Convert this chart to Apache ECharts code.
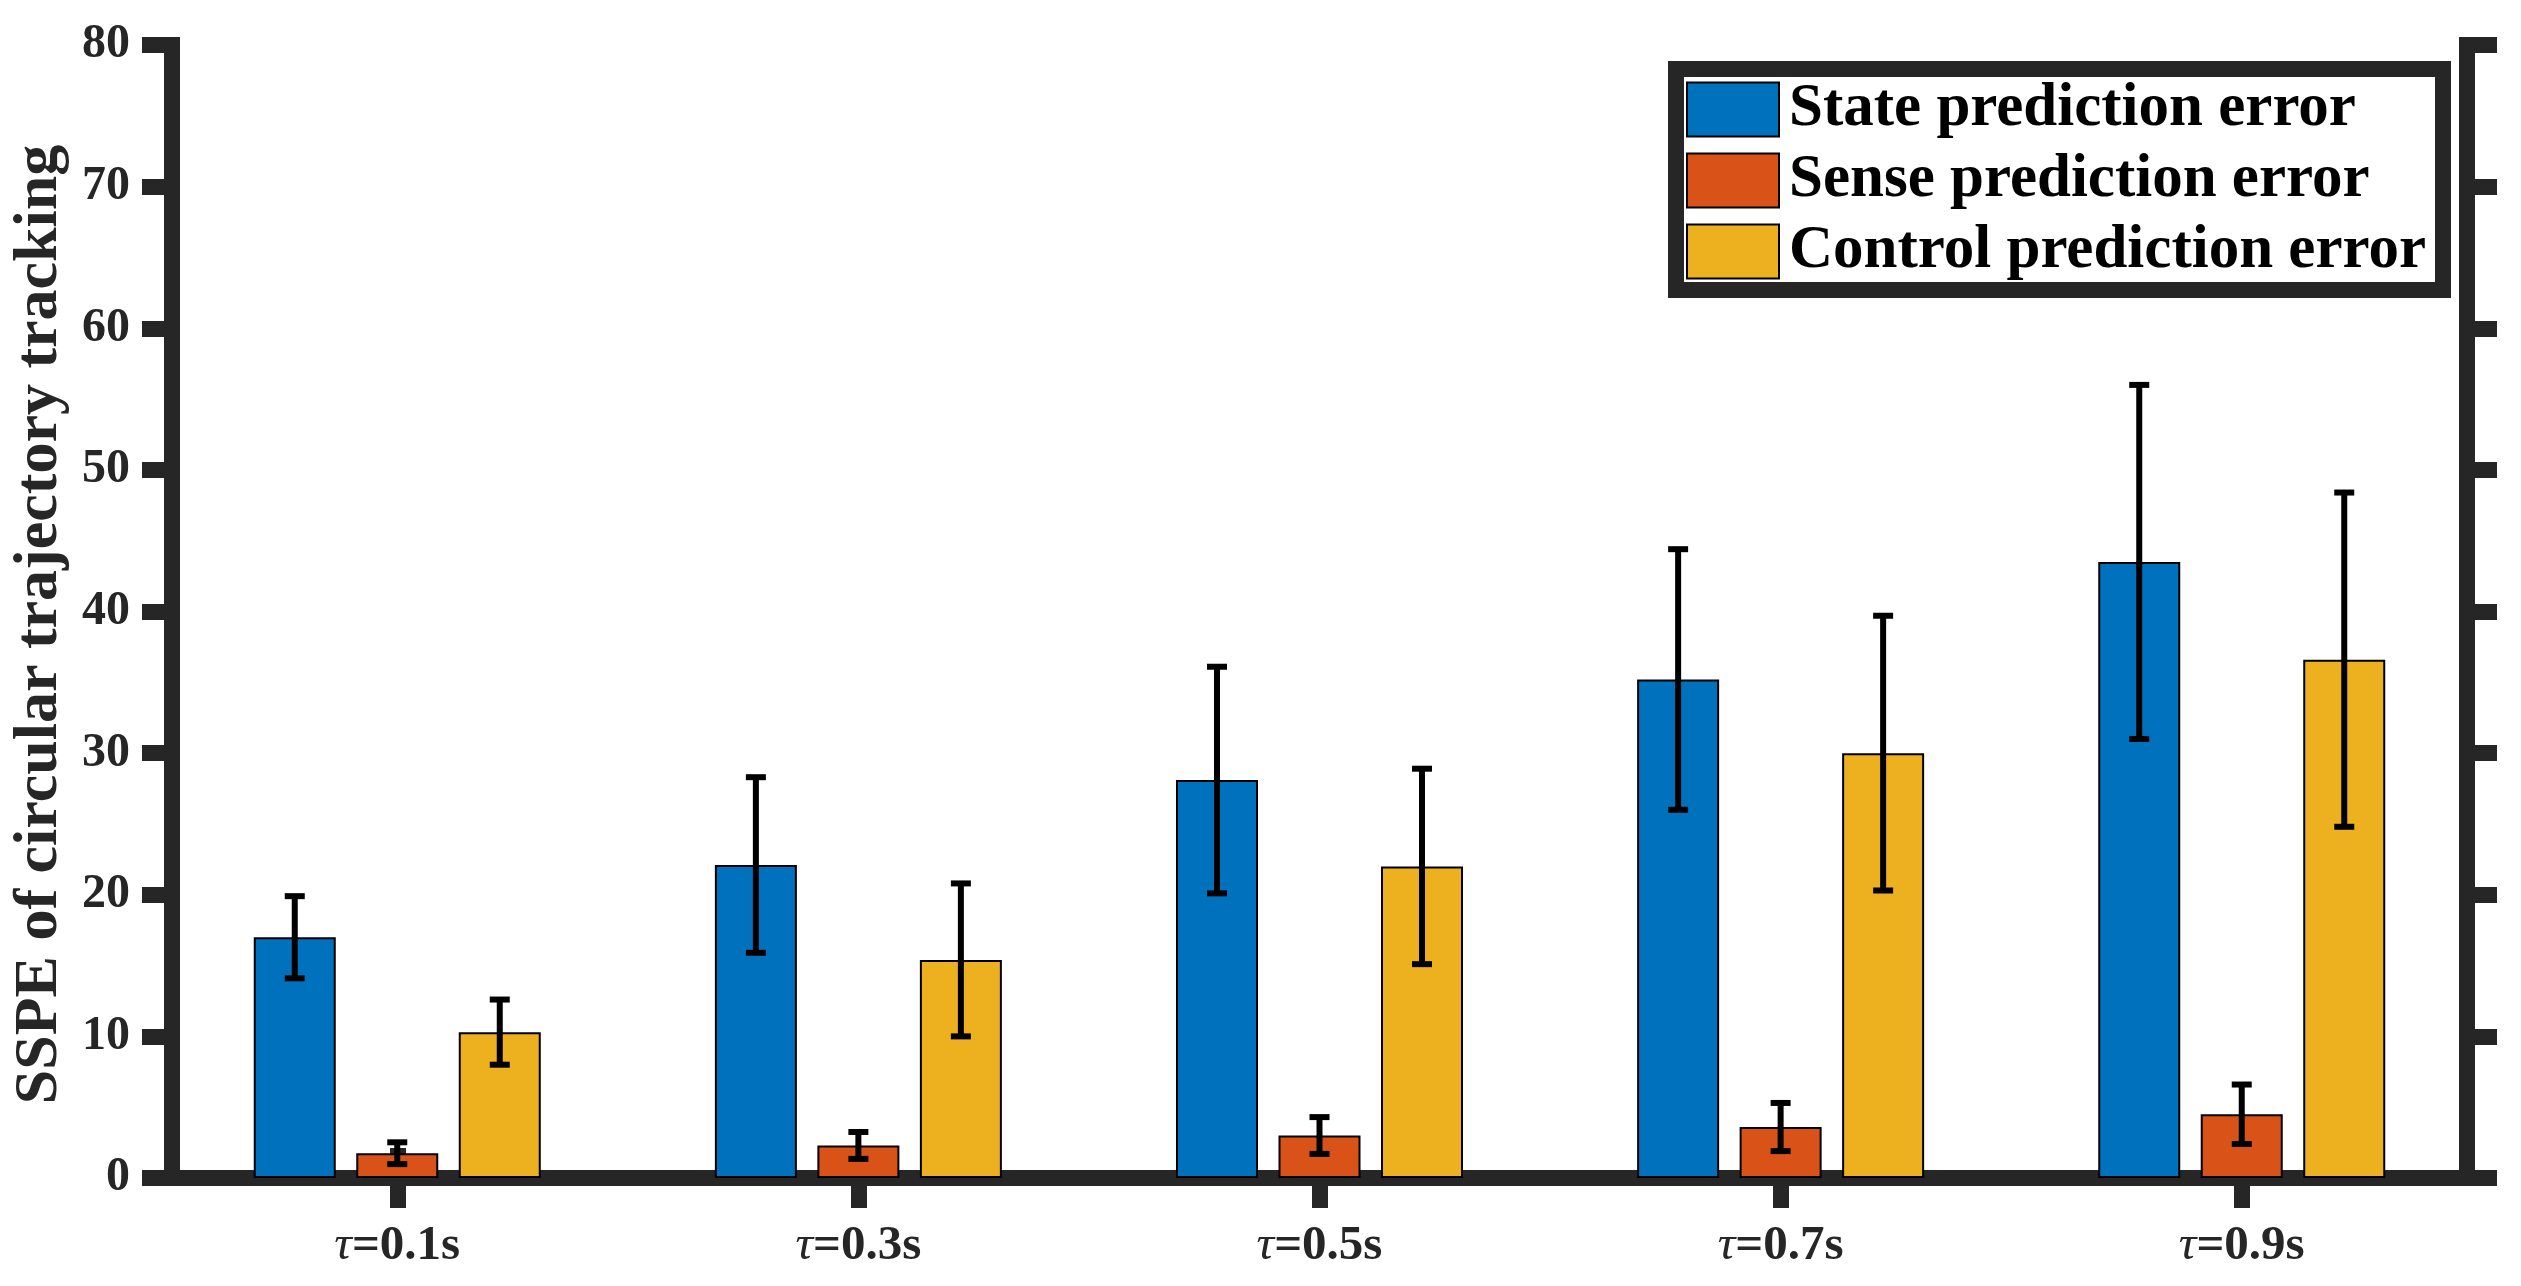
<!DOCTYPE html>
<html><head><meta charset="utf-8">
<script src="https://cdn.jsdelivr.net/npm/echarts/dist/echarts.min.js"></script>
<style>html,body{margin:0;padding:0;background:#fff}#c{width:2521px;height:1286px}</style>
</head><body><div id="c"></div>
<script>
// ---- data ----
const categories = ['τ=0.1s', 'τ=0.3s', 'τ=0.5s', 'τ=0.7s', 'τ=0.9s'];
const seriesNames = ['State prediction error', 'Sense prediction error', 'Control prediction error'];
const stateMean   = [17.0, 22.1, 28.1, 35.2, 43.5];
const stateSd     = [2.9, 6.2, 8.0, 9.2, 12.5];
const senseMean   = [1.75, 2.3, 3.0, 3.6, 4.5];
const senseSd     = [0.77, 0.95, 1.3, 1.7, 2.1];
const controlMean = [10.3, 15.4, 22.0, 30.0, 36.6];
const controlSd   = [2.3, 5.4, 6.9, 9.7, 11.8];
const yMin = 0, yMax = 80, yStep = 10;
const xPositions = [1, 2, 3, 4, 5];
const xMin = 0.5115, xMax = 5.4885;

// ---- style ----
const colors = ['#0072BD', '#D95319', '#EDB120'];
const axisColor = '#262626';
const font = "'Times New Roman', 'Liberation Serif', serif";
const barW = 82, gapRatio = 0.25;

const means = [stateMean, senseMean, controlMean];
const sds = [stateSd, senseSd, controlSd];

const barSeries = seriesNames.map((name, k) => ({
  name, type: 'bar',
  data: means[k].map((m, i) => [xPositions[i], m]),
  barWidth: barW, barGap: (gapRatio * 100) + '%',
  itemStyle: { color: colors[k], borderColor: '#000', borderWidth: 2 },
  z: 2
}));

const errSeries = seriesNames.map((name, k) => ({
  type: 'custom', name: name + ' err',
  data: means[k].map((m, i) => [xPositions[i], m - sds[k][i], m + sds[k][i]]),
  z: 5,
  renderItem: function (params, api) {
    const off = (k - 1) * barW * (1 + gapRatio);
    const lo = api.coord([api.value(0), api.value(1)]);
    const hi = api.coord([api.value(0), api.value(2)]);
    const x = lo[0] + off;
    const cw = 10;
    const st = { stroke: '#000', lineWidth: 6 };
    return {
      type: 'group', children: [
        { type: 'line', shape: { x1: x, y1: lo[1], x2: x, y2: hi[1] }, style: st },
        { type: 'line', shape: { x1: x - cw, y1: hi[1], x2: x + cw, y2: hi[1] }, style: st },
        { type: 'line', shape: { x1: x - cw, y1: lo[1], x2: x + cw, y2: lo[1] }, style: st }
      ]
    };
  }
}));

const axLine = { show: true, lineStyle: { color: axisColor, width: 16, cap: 'square' } };
const axTick = { show: true, inside: false, length: 30, lineStyle: { color: axisColor, width: 16 } };

const option = {
  backgroundColor: '#fff',
  animation: false,
  grid: { left: 172, right: 54, top: 45, bottom: 108 },
  xAxis: [
    {
      type: 'value', min: xMin, max: xMax, position: 'bottom',
      axisLine: axLine,
      axisTick: Object.assign({ customValues: xPositions }, axTick),
      axisLabel: {
        customValues: xPositions,
        margin: 44, color: axisColor, fontFamily: font, fontWeight: 'bold', fontSize: 49,
        formatter: v => { const s = categories[Math.round(v) - 1] || ''; return '{i|' + s.charAt(0) + '}{b|' + s.slice(1) + '}'; },
        rich: {
          i: { fontFamily: font, fontStyle: 'italic', fontWeight: 'normal', fontSize: 49, color: axisColor },
          b: { fontFamily: font, fontWeight: 'bold', fontSize: 49, color: axisColor }
        }
      },
      splitLine: { show: false }
    },
    {
      type: 'value', min: xMin, max: xMax, position: 'top',
      axisLine: axLine,
      axisTick: Object.assign({ customValues: xPositions }, axTick),
      axisLabel: { show: false }, splitLine: { show: false }
    }
  ],
  yAxis: [
    {
      type: 'value', min: yMin, max: yMax, interval: yStep, position: 'left',
      axisLine: axLine, axisTick: axTick,
      axisLabel: { margin: 42, color: axisColor, fontFamily: font, fontWeight: 'bold', fontSize: 48 },
      splitLine: { show: false },
      name: 'SSPE of circular trajectory tracking', nameLocation: 'middle', nameGap: 99,
      nameTextStyle: { color: axisColor, fontFamily: font, fontWeight: 'bold', fontSize: 62, padding: [0, 26, 0, 0] }
    },
    {
      type: 'value', min: yMin, max: yMax, interval: yStep, position: 'right',
      axisLine: axLine, axisTick: axTick,
      axisLabel: { show: false }, splitLine: { show: false }
    }
  ],
  legend: {
    data: seriesNames, orient: 'vertical', left: 1686, top: 79, padding: 0,
    itemWidth: 92, itemHeight: 54, itemGap: 10, selectedMode: false,
    icon: 'rect',
    textStyle: { color: '#000', fontFamily: font, fontWeight: 'bold', fontSize: 61, padding: [0, 0, 0, 5] }
  },
  graphic: [{
    type: 'rect', z: 3,
    shape: { x: 1676, y: 69, width: 767, height: 221 },
    style: { fill: '#fff', stroke: axisColor, lineWidth: 16 }
  }],
  series: barSeries.concat(errSeries)
};

const chart = echarts.init(document.getElementById('c'), null, { renderer: 'canvas' });
chart.setOption(option);
</script>
</body></html>
